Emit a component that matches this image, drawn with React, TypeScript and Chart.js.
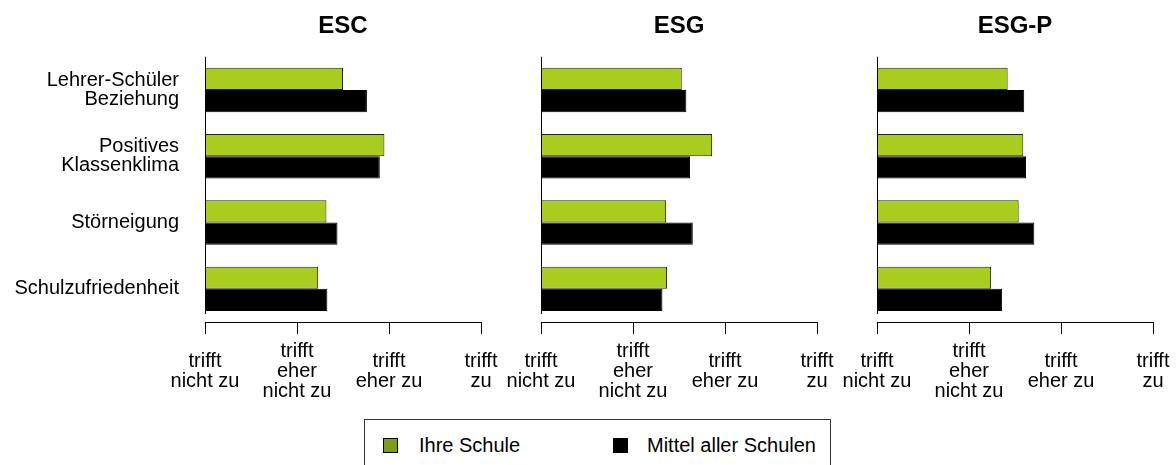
import React, { useEffect, useRef } from "react";
import { Chart, registerables } from "chart.js";

Chart.register(...registerables);

const FONT = "'Liberation Sans', Arial, Helvetica, sans-serif";

const categories: (string | string[])[] = [
  ["Lehrer-Schüler", "Beziehung"],
  ["Positives", "Klassenklima"],
  "Störneigung",
  "Schulzufriedenheit",
];
const panelTitles = ["ESC", "ESG", "ESG-P"];
const seriesNames = ["Ihre Schule", "Mittel aller Schulen"];

const escSchule = [2.5, 2.95, 2.32, 2.23];
const escMittel = [2.76, 2.9, 2.44, 2.33];
const esgSchule = [2.53, 2.86, 2.36, 2.37];
const esgMittel = [2.58, 2.62, 2.65, 2.32];
const esgpSchule = [2.42, 2.59, 2.54, 2.24];
const esgpMittel = [2.6, 2.62, 2.71, 2.36];

const tickValues = [1, 2, 3, 4];
const tickLabels = [
  ["trifft", "nicht zu"],
  ["trifft", "eher", "nicht zu"],
  ["trifft", "eher zu"],
  ["trifft", "zu"],
];

const GREEN = "#a9cd1f";
const LEGEND_GREEN = "#7f9b18";
const BLACK = "#000000";

const panelSchule = [escSchule, esgSchule, esgpSchule];
const panelMittel = [escMittel, esgMittel, esgpMittel];

const yAxisLine = {
  id: "yAxisLine",
  afterDatasetsDraw(chart: any) {
    const { ctx, chartArea } = chart;
    const x = Math.round(chartArea.left - 0.5) + 0.5;
    ctx.save();
    ctx.strokeStyle = "#000";
    ctx.lineWidth = 1;
    ctx.beginPath();
    ctx.moveTo(x, chartArea.top);
    ctx.lineTo(x, chartArea.bottom - 8);
    ctx.stroke();
    ctx.restore();
  },
};

function Panel({ index }: { index: number }) {
  const ref = useRef<HTMLCanvasElement>(null);
  useEffect(() => {
    const chart = new Chart(ref.current as HTMLCanvasElement, {
      type: "bar",
      data: {
        labels: categories,
        datasets: [
          {
            label: seriesNames[0],
            data: panelSchule[index],
            backgroundColor: GREEN,
            borderColor: "#1e1e1e",
            borderWidth: 1,
            base: 1,
          } as any,
          {
            label: seriesNames[1],
            data: panelMittel[index],
            backgroundColor: BLACK,
            borderColor: "#000",
            borderWidth: 1,
            base: 1,
          } as any,
        ],
      },
      options: {
        indexAxis: "y",
        responsive: false,
        animation: false,
        events: [],
        layout: { padding: { left: 0, right: 19, top: 0, bottom: 0 } },
        datasets: { bar: { categoryPercentage: 0.67, barPercentage: 1 } },
        plugins: {
          legend: { display: false },
          tooltip: { enabled: false },
          title: {
            display: true,
            text: panelTitles[index],
            fullSize: false,
            color: "#000",
            font: { family: FONT, size: 24, weight: "bold", lineHeight: 1.2 },
            padding: { top: 12, bottom: 16 },
          },
        },
        scales: {
          x: {
            type: "linear",
            min: tickValues[0],
            max: tickValues[tickValues.length - 1],
            afterBuildTicks: (s: any) => {
              s.ticks = tickValues.map((v) => ({ value: v }));
            },
            afterFit: (s: any) => {
              s.height = 90;
              s.paddingLeft = 0;
              s.paddingRight = 0;
            },
            ticks: {
              callback: (v: any) => tickLabels[tickValues.indexOf(Number(v))],
              color: "#000",
              font: { family: FONT, size: 20, lineHeight: 1.0 },
              padding: 17,
              crossAlign: "center",
              maxRotation: 0,
              minRotation: 0,
              autoSkip: false,
            },
            grid: {
              drawOnChartArea: false,
              drawTicks: true,
              tickLength: 12,
              color: "#000",
              lineWidth: 1,
            },
            border: { display: true, color: "#000", width: 1 },
          },
          y: {
            afterFit: (s: any) => {
              s.width = 205;
            },
            ticks: {
              display: index === 0,
              color: "#000",
              font: { family: FONT, size: 20, lineHeight: 0.96 },
              padding: 26,
            },
            grid: { display: false, drawTicks: false },
            border: { display: false },
          },
        },
      } as any,
      plugins: [yAxisLine],
    });
    return () => chart.destroy();
  }, [index]);
  return (
    <canvas
      ref={ref}
      width={500}
      height={412}
      style={{ position: "absolute", left: index * 336, top: 0, width: 500, height: 412 }}
    />
  );
}

function Legend() {
  const colors = [LEGEND_GREEN, BLACK];
  const squareLeft = [18, 248];
  const textLeft = [54, 282];
  return (
    <div
      style={{
        position: "absolute",
        left: 364,
        top: 419,
        width: 467,
        height: 70,
        border: "1px solid #333",
        boxSizing: "border-box",
        fontFamily: FONT,
        fontSize: 20,
        lineHeight: "20px",
        color: "#000",
        background: "#fff",
      }}
    >
      {seriesNames.map((name, i) => (
        <React.Fragment key={name}>
          <div
            style={{
              position: "absolute",
              left: squareLeft[i],
              top: 18,
              width: 15,
              height: 15,
              background: colors[i],
              border: "1px solid #000",
              boxSizing: "border-box",
            }}
          />
          <div style={{ position: "absolute", left: textLeft[i], top: 15, whiteSpace: "nowrap" }}>{name}</div>
        </React.Fragment>
      ))}
    </div>
  );
}

export default function App() {
  return (
    <div
      style={{
        position: "absolute",
        left: 0,
        top: 0,
        width: 1176,
        height: 465,
        overflow: "hidden",
        background: "#fff",
      }}
    >
      <Panel index={0} />
      <Panel index={1} />
      <Panel index={2} />
      <Legend />
    </div>
  );
}
